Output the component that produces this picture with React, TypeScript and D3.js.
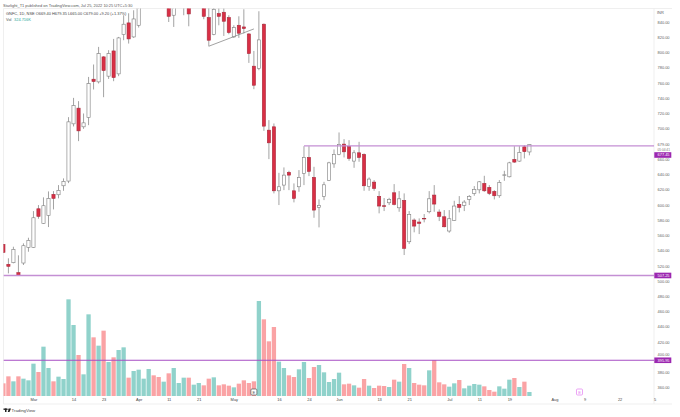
import { useEffect, useRef } from 'react';
import * as d3 from 'd3';

// GNFC daily. Candles 28-39 sit above the visible pane, so they are rough.
const opens = [
  548.1, 521.9, 524, 510.9, 523.6, 544.2, 544.2, 594.8, 575.7, 586.2,
  613.7, 613.2, 625, 631.2, 706.3, 726.9, 702.4, 714.7, 764.9, 761.4,
  794.2, 768.9, 802, 771.9, 823.5, 838.8, 820.4, 835.7, 872, 880,
  902, 892, 878, 875, 848.9, 866, 868, 878, 866, 870,
  880, 845.8, 823.5, 851.1, 852.8, 845.8, 820.4, 835.7, 833.5, 824.3,
  782, 779, 837.1, 698, 702.4, 618.4, 625.9, 642.6, 618.4, 623.7,
  641.2, 662.2, 636, 596.7, 611.1, 632.1, 653.8, 666.2, 679.7, 676.7,
  657.4, 668.3, 666.2, 624.2, 629.8, 611.1, 598.8, 602.7, 615.8, 596.1,
  605.8, 551.5, 580, 577.4, 582.2, 590.9, 612.8, 590.5, 584.3, 565.6,
  579.6, 600.6, 599.3, 607.1, 615, 619.7, 628.1, 622.9, 617.6, 611.9,
  639, 636.8, 659.6, 657.4, 676.1, 669.4,
];
const highs = [
  548.5, 529.8, 545, 533.7, 549.4, 556.8, 591.8, 599.7, 609.8, 617.6,
  618, 625.9, 634.7, 715.1, 740.4, 736.1, 719.9, 767.9, 784.2, 807.3,
  795.1, 803, 817.8, 820.4, 848.9, 851.5, 855.4, 878, 890, 905,
  908, 896, 892, 880, 882, 886, 884, 882, 884, 890,
  886, 862, 866, 858, 858, 848.9, 835.7, 847.5, 856.7, 825.3,
  802, 854.1, 838, 711.2, 706.8, 642, 649.1, 644.7, 628.1, 645.6,
  677, 677, 649.9, 607.1, 630.2, 656.5, 672.7, 695, 686.2, 684.9,
  671.8, 682.7, 667.5, 636, 632.5, 618, 608.9, 609.2, 627.2, 618,
  615, 591.8, 582.2, 582.2, 587.9, 618, 625.9, 594, 593.1, 593.1,
  605.3, 611.5, 606.2, 612.8, 624.6, 631.2, 638.1, 625.9, 619.3, 632.5,
  644.7, 656.5, 677, 677, 678.4, 679.35,
];
const lows = [
  536.7, 510, 523.2, 507.25, 521, 538.4, 543.7, 581.7, 575.1, 570.8,
  594, 608.5, 618.4, 628.5, 702.9, 683.6, 699.7, 704.6, 751.4, 759.3,
  741.3, 765.3, 762.3, 768.9, 816.1, 811.7, 819.1, 832.7, 866, 875,
  884, 872, 872, 840, 833.5, 860, 848.9, 834.4, 860, 860,
  843.6, 808.2, 822.6, 835.7, 821.7, 823.9, 819.1, 819.1, 824.9, 786.3,
  751.8, 776.7, 697.1, 660, 615, 599.7, 619.3, 619.3, 603.2, 617.1,
  625.9, 637.7, 583, 570.4, 606.2, 631.2, 648.6, 665.2, 662.2, 657.8,
  648.6, 656.5, 618.4, 618.4, 618.4, 588.8, 591.8, 599.7, 599.3, 590.9,
  534.1, 548.5, 563.9, 561.6, 577, 588.8, 590.9, 578.7, 570.4, 563.3,
  579.1, 590.1, 591.8, 599.7, 611.9, 615, 617.1, 612.8, 607.1, 609.2,
  631.5, 636, 655.1, 656.5, 660.9, 665,
];
const closes = [
  537.6, 519.3, 541.6, 507.5, 546.3, 553.4, 583, 584.9, 598.8, 608.5,
  608.5, 619, 630.8, 708.9, 730.4, 697.1, 707.6, 759.3, 761.9, 798.6,
  776.3, 798.6, 767.1, 819.1, 837.1, 817.8, 844, 870, 884, 900,
  890, 880, 886, 847.5, 875, 880, 880, 850.6, 878, 884,
  847.5, 816.1, 856.7, 847.5, 841, 826.2, 832.7, 825.3, 831.4, 798.6,
  757, 816.5, 703.3, 681.4, 618.4, 623.7, 639, 639, 608.5, 636,
  662.2, 643.9, 593.1, 599.3, 626.3, 655.1, 666.2, 679.3, 669.6, 660.9,
  668.3, 662.2, 625, 633.8, 621.6, 598.4, 598.4, 607.1, 600.6, 607.9,
  542.9, 587.5, 572.1, 575.7, 582, 607.9, 601, 584.9, 571.2, 581.7,
  598.4, 596.7, 603.6, 611.1, 620.3, 630.2, 618.4, 615, 611.9, 629.4,
  639.4, 655.1, 656.1, 668.8, 669.8, 679,
];
// thousands of shares
const volumes = [
  1026, 1593, 1188, 1593, 1404, 1269, 2619, 1944, 3996, 2268,
  1188, 1566, 1377, 7830, 5751, 3321, 1755, 6615, 4752, 4077,
  5292, 2754, 3132, 3726, 3942, 1485, 2025, 2133, 1404, 2187,
  1674, 1539, 1161, 1836, 2268, 1053, 1485, 1485, 918, 1053,
  864, 1404, 1512, 864, 945, 837, 702, 999, 1269, 1053,
  1188, 7695, 6210, 4428, 5589, 2781, 2268, 1674, 1539, 2160,
  2754, 1458, 2349, 2511, 1917, 1134, 1377, 1890, 945, 999,
  864, 675, 1377, 837, 648, 837, 810, 729, 1323, 1161,
  2592, 2268, 1053, 918, 864, 2079, 2916, 1107, 945, 756,
  1026, 1296, 621, 837, 972, 918, 783, 486, 351, 783,
  594, 1323, 1458, 729, 1161, 324.716,
];

const priceTicks = [840, 820, 800, 780, 760, 740, 720, 700, 640, 620, 600, 580, 560, 540, 520, 480, 460, 440, 420, 380, 360];
const dateTicks = [6, 14, 20, 27, 33, 39, 46, 55, 61, 67, 75, 81, 89, 95, 101, 110, 116, 123, 130];
const dateLabels = ['Mar', '14', '23', 'Apr', '11', '21', 'May', '16', '24', 'Jun', '13', '21', 'Jul', '11', '19', 'Aug', '9', '22', '5'];

const levelPrices = [677.45, 507.25, 395.95];
const levelStarts = [60, 0, 0];
const trendIndex = [41, 50];
const trendPrice = [808.2, 830.9];
const earningsIndex = [50, 115];

const W = 680;
const H = 417;
const FONT = '"Liberation Sans", Arial, sans-serif';

export default function App() {
  const svgRef = useRef<SVGSVGElement>(null);

  useEffect(() => {
    if (!svgRef.current) return;
    const svg = d3.select(svgRef.current);
    svg.selectAll('*').remove();

    const left = 3.5, right = 654, top = 8.5, bottom = 404;
    const volBase = 396;

    const x = d3.scaleLinear([0, 105], [3.4, 529.4]);
    const y = d3.scaleLinear([500, 840], [281, 22]);
    const yVol = d3.scaleLinear([0, 8100], [volBase, volBase - 100]);

    svg.append('rect').attr('width', W).attr('height', H).attr('fill', '#fff');
    svg.append('defs').append('clipPath').attr('id', 'pane')
      .append('rect').attr('x', left).attr('y', top).attr('width', right - left).attr('height', bottom - top);

    // Frame
    const frame = svg.append('g').attr('stroke', '#ebebeb').attr('stroke-width', 0.8);
    frame.append('line').attr('x1', left).attr('x2', 672).attr('y1', top).attr('y2', top);
    frame.append('line').attr('x1', left).attr('x2', 672).attr('y1', bottom).attr('y2', bottom);
    frame.append('line').attr('x1', left).attr('x2', left).attr('y1', top).attr('y2', bottom);
    frame.append('line').attr('x1', right).attr('x2', right).attr('y1', top).attr('y2', bottom);

    const pane = svg.append('g').attr('clip-path', 'url(#pane)');
    const idx = d3.range(closes.length);
    const isUp = (i: number) => closes[i] >= opens[i];

    // Volume
    pane.append('g').selectAll('rect').data(idx).join('rect')
      .attr('x', i => x(i) - 2.15).attr('width', 4.3)
      .attr('y', i => yVol(volumes[i]))
      .attr('height', i => volBase - yVol(volumes[i]))
      .attr('fill', i => (isUp(i) ? '#90d2cb' : '#faa3a5'));

    // Wicks
    pane.append('g').selectAll('line').data(idx).join('line')
      .attr('x1', i => x(i)).attr('x2', i => x(i))
      .attr('y1', i => y(highs[i])).attr('y2', i => y(lows[i]))
      .attr('stroke', '#8c8c8c').attr('stroke-width', 0.8);

    // Bodies
    pane.append('g').selectAll('rect').data(idx).join('rect')
      .attr('x', i => x(i) - 1.6).attr('width', 3.2)
      .attr('y', i => y(Math.max(opens[i], closes[i])))
      .attr('height', i => Math.max(0.6, Math.abs(y(opens[i]) - y(closes[i]))))
      .attr('fill', i => (isUp(i) ? '#fff' : '#d92f45'))
      .attr('stroke', i => (isUp(i) ? '#7d7d7d' : '#a82a3c'))
      .attr('stroke-width', 0.6);

    // Trend line under the top
    const trend = d3.line<number>().x(i => x(trendIndex[i])).y(i => y(trendPrice[i]));
    pane.append('path').attr('d', trend([0, 1])).attr('fill', 'none')
      .attr('stroke', '#8a8a8a').attr('stroke-width', 0.8);

    // Horizontal levels
    levelPrices.forEach((p, i) => {
      const last = i === 2;
      pane.append('line')
        .attr('x1', x(levelStarts[i])).attr('x2', right)
        .attr('y1', y(p)).attr('y2', y(p))
        .attr('stroke', last ? '#a64dc4' : '#c48fd4')
        .attr('stroke-width', last ? 1 : 1.3);
    });

    // Earnings flags
    earningsIndex.forEach((i, n) => {
      const c = n === 0 ? '#555' : '#e27cf0';
      const g = pane.append('g').attr('transform', `translate(${x(i)},392)`);
      g.append('rect').attr('x', -3).attr('y', -3).attr('width', 6).attr('height', 6).attr('rx', 1)
        .attr('fill', '#fff').attr('stroke', c).attr('stroke-width', 0.7);
      g.append('text').attr('text-anchor', 'middle').attr('y', 1.5).attr('font-size', 4)
        .attr('font-family', FONT).attr('fill', c).text('E');
    });

    // Axes
    const priceAxis = svg.append('g').attr('transform', `translate(${right},0)`)
      .call(d3.axisRight(y).tickValues(priceTicks).tickFormat(d3.format('.2f')).tickSize(0).tickPadding(3.5));
    const timeAxis = svg.append('g').attr('transform', 'translate(0,396.5)')
      .call(d3.axisBottom(x).tickValues(dateTicks).tickFormat((_, i) => dateLabels[i]).tickSize(0).tickPadding(1.5));
    [priceAxis, timeAxis].forEach(a => {
      a.select('.domain').remove();
      a.selectAll('text').attr('font-size', 3.95).attr('font-family', FONT).attr('fill', '#5d5d5d');
    });
    timeAxis.selectAll('text').attr('fill', '#444');

    const label = (tx: number, ty: number, text: string, fill = '#5d5d5d', size = 3.95) =>
      svg.append('text').attr('x', tx).attr('y', ty).attr('font-size', size)
        .attr('font-family', FONT).attr('fill', fill).text(text);

    label(657, 14.2, 'INR');
    label(657.5, 146.4, '679.00');
    label(657.5, 150.6, '05:04:41', '#777', 3.2);

    // Ticks that sit right against a price tag, shown clear of it
    label(657.5, 161.2, '660.00');
    label(657.5, 282.6, '500.00');
    label(657.5, 356.3, '400.00');

    // Level price tags, the first is pushed down by the last price label
    const tags: [number, number][] = [[155, levelPrices[0]], [y(levelPrices[1]), levelPrices[1]], [y(levelPrices[2]), levelPrices[2]]];
    tags.forEach(([ty, v]) => {
      svg.append('rect').attr('x', 654.3).attr('y', ty - 2.8).attr('width', 17).attr('height', 5.6).attr('fill', '#9c27b0');
      label(657.5, ty + 1.4, d3.format('.2f')(v), '#fff');
    });

    // Titles
    label(3, 6.8, 'Starlight_T1 published on TradingView.com, Jul 25, 2022 10:25 UTC+5:30', '#555', 3.95);
    label(6, 14.6, 'GNFC, 1D, NSE  O669.40  H679.35  L665.00  C679.00  +9.20 (+1.37%)', '#444', 3.95);
    label(6, 20.7, 'Vol', '#555', 3.95);
    label(14, 20.7, '324.716K', '#26a69a', 3.95);

    // TradingView mark
    const logo = svg.append('g').attr('fill', '#222').attr('transform', 'translate(0,-1)');
    logo.append('rect').attr('x', 3.5).attr('y', 409.5).attr('width', 3.6).attr('height', 1.4);
    logo.append('rect').attr('x', 5).attr('y', 409.5).attr('width', 1.5).attr('height', 3.5);
    logo.append('circle').attr('cx', 8).attr('cy', 410.2).attr('r', 0.7);
    logo.append('path').attr('d', d3.line()([[9, 409.5], [11, 409.5], [9.5, 413], [7.7, 413]]) + 'Z');
    label(11.5, 411.8, 'TradingView', '#444', 4.3);
  }, []);

  return <svg ref={svgRef} width={W} height={H} style={{ position: 'absolute', left: 0, top: 0 }} />;
}
